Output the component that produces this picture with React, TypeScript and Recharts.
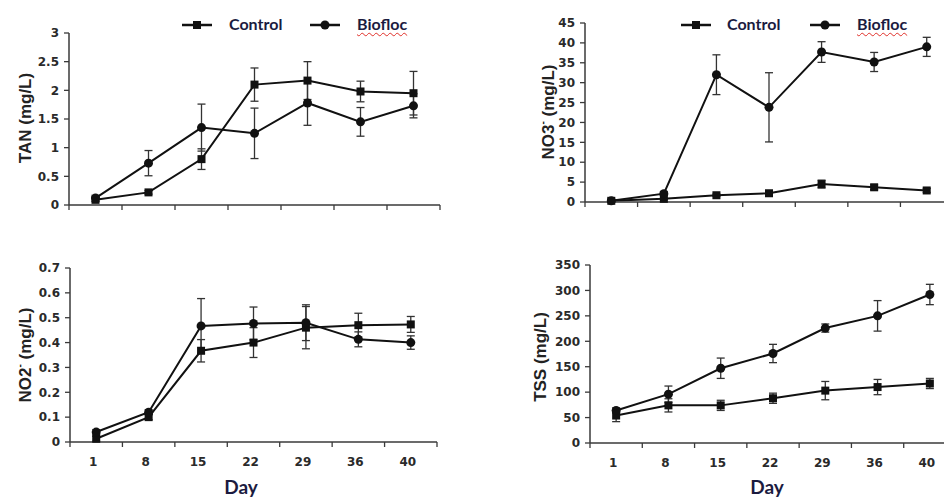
import React from "react";
import { LineChart, Line, XAxis, YAxis, ErrorBar } from "recharts";

// sampling days (x categories)
const days = ["1", "8", "15", "22", "29", "36", "40"];

// TAN (mg/L)
const tanControl = [0.09, 0.22, 0.8, 2.1, 2.17, 1.98, 1.95];
const tanControlErr = [0.03, 0.03, 0.18, 0.29, 0.33, 0.18, 0.38];
const tanBiofloc = [0.12, 0.73, 1.35, 1.25, 1.78, 1.45, 1.73];
const tanBioflocErr = [0.05, 0.22, 0.41, 0.44, 0.39, 0.25, 0.21];
const tanTicks = [0, 0.5, 1, 1.5, 2, 2.5, 3];

// NO3- (mg/L)
const no3Control = [0.3, 0.8, 1.7, 2.2, 4.5, 3.7, 2.9];
const no3ControlErr = [0.2, 0.2, 0.3, 0.4, 1.0, 0.6, 0.5];
const no3Biofloc = [0.3, 2.1, 32, 23.8, 37.7, 35.2, 39.0];
const no3BioflocErr = [0.2, 0.5, 5, 8.7, 2.6, 2.4, 2.4];
const no3Ticks = [0, 5, 10, 15, 20, 25, 30, 35, 40, 45];

// NO2- (mg/L)
const no2Control = [0.013, 0.1, 0.367, 0.4, 0.46, 0.47, 0.473];
const no2ControlErr = [0.01, 0.01, 0.045, 0.06, 0.085, 0.048, 0.032];
const no2Biofloc = [0.04, 0.12, 0.467, 0.477, 0.48, 0.413, 0.4];
const no2BioflocErr = [0.01, 0.01, 0.11, 0.066, 0.072, 0.03, 0.027];
const no2Ticks = [0, 0.1, 0.2, 0.3, 0.4, 0.5, 0.6, 0.7];

// TSS (mg/L)
const tssControl = [54, 74, 74, 88, 103, 110, 117];
const tssControlErr = [12, 13, 10, 10, 18, 15, 10];
const tssBiofloc = [64, 96, 147, 176, 226, 250, 292];
const tssBioflocErr = [5, 16, 20, 18, 8, 30, 20];
const tssTicks = [0, 50, 100, 150, 200, 250, 300, 350];

const ink = "#111111";
const axisColor = "#3a3a3a";
const navy = "#1b1b3f";
const tickFont = {
  fontFamily: "'DejaVu Sans', sans-serif",
  fontSize: 12,
  fontWeight: 700,
  fill: "#2a2a2a",
};
const titleFont = {
  fontFamily: "'Liberation Sans', Arial, sans-serif",
  fontSize: 17,
  fontWeight: 700,
  fill: "#222",
};

// boundaries get a tick mark, band centres get the day label
const xTicks = [0, 0.5, 1, 1.5, 2, 2.5, 3, 3.5, 4, 4.5, 5, 5.5, 6, 6.5, 7];

function buildRows(control: number[], controlErr: number[], biofloc: number[], bioflocErr: number[]) {
  return days.map((day, i) => ({
    pos: i + 0.5,
    day,
    control: control[i],
    controlErr: controlErr[i],
    biofloc: biofloc[i],
    bioflocErr: bioflocErr[i],
  }));
}

function renderXTick(props: any, showLabels: boolean) {
  const { x, y, payload } = props;
  const v = payload.value;
  if (Number.isInteger(v)) {
    return <line x1={x} x2={x} y1={y} y2={y + 5} stroke={axisColor} strokeWidth={1.3} />;
  }
  if (!showLabels) return <g />;
  return (
    <text x={x - 3} y={y + 24} textAnchor="middle" {...tickFont}>
      {days[Math.floor(v)]}
    </text>
  );
}

const squareDot = (props: any) => {
  const { cx, cy, index } = props;
  if (cx == null || cy == null) return <g key={`s${index}`} />;
  return <rect key={`s${index}`} x={cx - 4} y={cy - 4} width={8} height={8} fill={ink} />;
};

const circleDot = (props: any) => {
  const { cx, cy, index } = props;
  if (cx == null || cy == null) return <g key={`c${index}`} />;
  return <circle key={`c${index}`} cx={cx} cy={cy} r={4.5} fill={ink} />;
};

interface PanelProps {
  left: number;
  top: number;
  width: number;
  height: number;
  margin: { top: number; right: number; bottom: number; left: number };
  yWidth: number;
  yMax: number;
  yTicks: number[];
  rows: ReturnType<typeof buildRows>;
  title: React.ReactNode;
  titleX: number;
  titleY: number;
  dayX?: number;
}

function Panel(p: PanelProps) {
  const showLabels = p.dayX != null;
  return (
    <div style={{ position: "absolute", left: p.left, top: p.top }}>
      <LineChart width={p.width} height={p.height} data={p.rows} margin={p.margin}>
        <XAxis
          type="number"
          dataKey="pos"
          domain={[0, 7]}
          ticks={xTicks}
          interval={0}
          tickSize={0}
          tickMargin={0}
          tickLine={false}
          height={30}
          axisLine={{ stroke: axisColor, strokeWidth: 1.5 }}
          tick={(t: any) => renderXTick(t, showLabels)}
          label={
            showLabels
              ? () => (
                  <text
                    x={p.dayX}
                    y={254}
                    textAnchor="middle"
                    fontFamily="Lato, sans-serif"
                    fontWeight={700}
                    fontSize={19}
                    fill={navy}
                  >
                    Day
                  </text>
                )
              : undefined
          }
        />
        <YAxis
          type="number"
          domain={[0, p.yMax]}
          ticks={p.yTicks}
          interval={0}
          width={p.yWidth}
          tickSize={5}
          tickMargin={5}
          tick={tickFont}
          tickLine={{ stroke: axisColor, strokeWidth: 1.3 }}
          axisLine={{ stroke: axisColor, strokeWidth: 1.5 }}
          label={() => (
            <text
              transform={`translate(${p.titleX},${p.titleY}) rotate(-90)`}
              textAnchor="middle"
              dominantBaseline="central"
              {...titleFont}
            >
              {p.title}
            </text>
          )}
        />
        <Line
          dataKey="control"
          stroke={ink}
          strokeWidth={2}
          dot={squareDot}
          activeDot={false}
          isAnimationActive={false}
        >
          <ErrorBar dataKey="controlErr" width={4} strokeWidth={1.3} stroke="#333" direction="y" />
        </Line>
        <Line
          dataKey="biofloc"
          stroke={ink}
          strokeWidth={2}
          dot={circleDot}
          activeDot={false}
          isAnimationActive={false}
        >
          <ErrorBar dataKey="bioflocErr" width={4} strokeWidth={1.3} stroke="#333" direction="y" />
        </Line>
      </LineChart>
    </div>
  );
}

function LegendItem({ x, textX, label, square, wavy }: { x: number; textX: number; label: string; square: boolean; wavy?: boolean }) {
  return (
    <>
      <svg style={{ position: "absolute", left: x, top: 19 }} width={32} height={12}>
        <line x1={0} x2={30} y1={6} y2={6} stroke={ink} strokeWidth={2.5} />
        {square ? <rect x={11} y={2} width={8} height={8} fill={ink} /> : <circle cx={15} cy={6} r={4.5} fill={ink} />}
      </svg>
      <div
        style={{
          position: "absolute",
          left: textX,
          top: 13,
          height: 22,
          lineHeight: "22px",
          fontFamily: "Lato, sans-serif",
          fontWeight: 700,
          fontSize: 16,
          color: navy,
          whiteSpace: "nowrap",
          textDecoration: wavy ? "underline wavy #e0302a" : "none",
          textDecorationThickness: wavy ? "1px" : undefined,
          textUnderlineOffset: wavy ? "2px" : undefined,
        }}
      >
        {label}
      </div>
    </>
  );
}

function ChartLegend({ items }: { items: { x: number; textX: number; label: string; square: boolean; wavy?: boolean }[] }) {
  return (
    <>
      {items.map((it) => (
        <LegendItem key={`${it.label}-${it.x}`} {...it} />
      ))}
    </>
  );
}

export default function App() {
  const tanRows = buildRows(tanControl, tanControlErr, tanBiofloc, tanBioflocErr);
  const no3Rows = buildRows(no3Control, no3ControlErr, no3Biofloc, no3BioflocErr);
  const no2Rows = buildRows(no2Control, no2ControlErr, no2Biofloc, no2BioflocErr);
  const tssRows = buildRows(tssControl, tssControlErr, tssBiofloc, tssBioflocErr);

  return (
    <div
      style={{
        position: "absolute",
        left: 0,
        top: 0,
        width: 944,
        height: 499,
        overflow: "hidden",
        background: "#fff",
      }}
    >
      <Panel
        left={0}
        top={0}
        width={470}
        height={240}
        margin={{ top: 33, right: 30, bottom: 5, left: 0 }}
        yWidth={69}
        yMax={3}
        yTicks={tanTicks}
        rows={tanRows}
        title="TAN (mg/L)"
        titleX={25}
        titleY={118}
      />
      <Panel
        left={470}
        top={0}
        width={500}
        height={240}
        margin={{ top: 23, right: 17, bottom: 8, left: 0 }}
        yWidth={115}
        yMax={45}
        yTicks={no3Ticks}
        rows={no3Rows}
        title={
          <>
            NO3<tspan dy={-6} fontSize={10}>-</tspan>
            <tspan dy={6}> (mg/L)</tspan>
          </>
        }
        titleX={78}
        titleY={112}
      />
      <Panel
        left={0}
        top={240}
        width={470}
        height={259}
        margin={{ top: 28, right: 33, bottom: 27, left: 0 }}
        yWidth={70}
        yMax={0.7}
        yTicks={no2Ticks}
        rows={no2Rows}
        title={
          <>
            NO2<tspan dy={-6} fontSize={10}>-</tspan>
            <tspan dy={6}> (mg/L)</tspan>
          </>
        }
        titleX={25}
        titleY={115}
        dayX={241}
      />
      <Panel
        left={470}
        top={240}
        width={500}
        height={259}
        margin={{ top: 25, right: 14, bottom: 26, left: 0 }}
        yWidth={120}
        yMax={350}
        yTicks={tssTicks}
        rows={tssRows}
        title="TSS (mg/L)"
        titleX={70}
        titleY={117}
        dayX={297}
      />
      <ChartLegend
        items={[
          { x: 182, textX: 229, label: "Control", square: true },
          { x: 310, textX: 357, label: "Biofloc", square: false, wavy: true },
          { x: 681, textX: 727, label: "Control", square: true },
          { x: 810, textX: 857, label: "Biofloc", square: false, wavy: true },
        ]}
      />
    </div>
  );
}
